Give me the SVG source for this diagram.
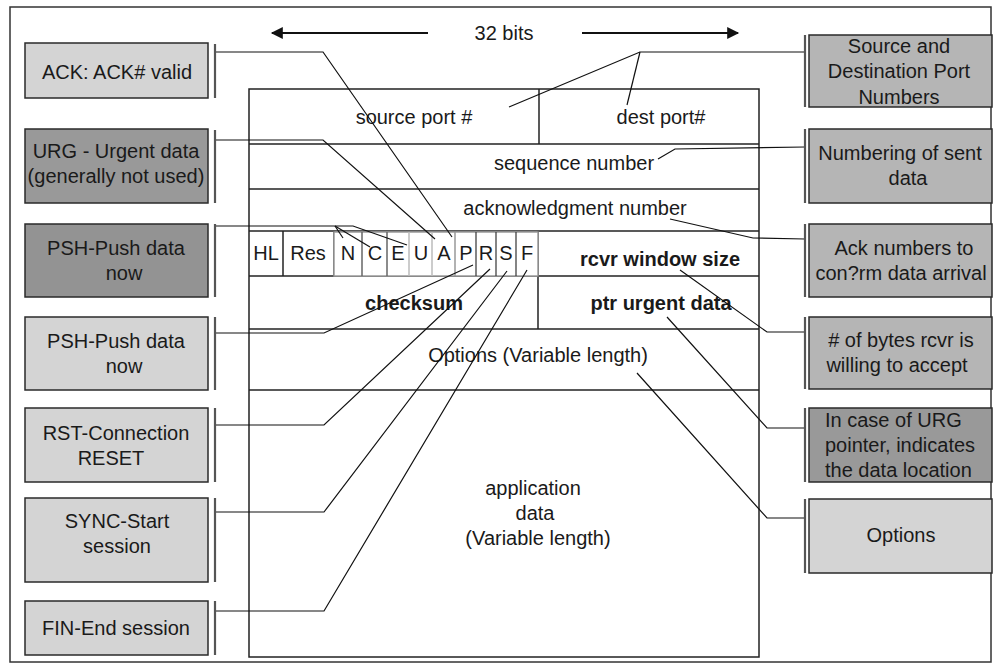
<svg xmlns="http://www.w3.org/2000/svg" width="997" height="668" viewBox="0 0 997 668">
<style>
text{font-family:"Liberation Sans",Arial,sans-serif;font-size:20px;fill:#1a1a1a}
.c{text-anchor:middle}
.b{font-weight:bold;font-size:20px}
.box{stroke:#2a2a2a;stroke-width:1.5}
.light{fill:#d4d4d4}
.mid{fill:#b5b5b5}
.dark{fill:#999999}
.darker{fill:#939393}
.bar{stroke:#555;stroke-width:2.2}
.tbl{fill:none;stroke:#222;stroke-width:1.5}
.flag{fill:#fff;stroke:#9a9a9a;stroke-width:1.5}
.conn polyline,.conn line{fill:none;stroke:#111;stroke-width:1.2}
</style>
<defs>
<marker id="ah" viewBox="0 0 10 10" refX="9" refY="5" markerWidth="7" markerHeight="6" orient="auto-start-reverse" markerUnits="strokeWidth"><path d="M0,0L10,5L0,10z" fill="#111"/></marker>
</defs>
<rect width="997" height="668" fill="#fff"/>
<rect x="10" y="7" width="981" height="655" fill="none" stroke="#333" stroke-width="1.5"/>

<g id="width-label">
<line x1="428" y1="33" x2="272" y2="33" stroke="#111" stroke-width="2" marker-end="url(#ah)"/>
<line x1="582" y1="33" x2="738" y2="33" stroke="#111" stroke-width="2" marker-end="url(#ah)"/>
<text x="504" y="40" class="c">32 bits</text>
</g>

<g id="header">
<rect x="249" y="89" width="510" height="568" class="tbl"/>
<line x1="249" y1="144" x2="759" y2="144" class="tbl"/>
<line x1="539" y1="89" x2="539" y2="144" class="tbl"/>
<line x1="249" y1="189" x2="759" y2="189" class="tbl"/>
<line x1="249" y1="231" x2="759" y2="231" class="tbl"/>
<line x1="249" y1="276" x2="759" y2="276" class="tbl"/>
<line x1="538" y1="231" x2="538" y2="329" class="tbl"/>
<line x1="249" y1="329" x2="759" y2="329" class="tbl"/>
<line x1="249" y1="390" x2="759" y2="390" class="tbl"/>
<line x1="283" y1="231" x2="283" y2="276" class="tbl"/>
<line x1="334" y1="231" x2="334" y2="276" class="tbl"/>
<rect x="334" y="232" width="204" height="44" class="flag"/>
<line x1="362" y1="232" x2="362" y2="276" stroke="#666" stroke-width="1.5"/>
<line x1="387" y1="232" x2="387" y2="276" stroke="#666" stroke-width="1.5"/>
<line x1="409" y1="232" x2="409" y2="276" stroke="#bbb" stroke-width="1.5"/>
<line x1="432" y1="232" x2="432" y2="276" stroke="#bbb" stroke-width="1.5"/>
<line x1="455" y1="232" x2="455" y2="276" stroke="#999" stroke-width="1.5"/>
<line x1="476" y1="232" x2="476" y2="276" stroke="#333" stroke-width="1.2"/>
<line x1="496" y1="232" x2="496" y2="276" stroke="#333" stroke-width="1.2"/>
<line x1="516" y1="232" x2="516" y2="276" stroke="#333" stroke-width="1.2"/>
<text x="414" y="124" class="c">source port #</text>
<text x="661" y="124" class="c">dest port#</text>
<text x="574" y="170" class="c">sequence number</text>
<text x="575" y="215" class="c">acknowledgment number</text>
<text x="266" y="260" class="c">HL</text>
<text x="308" y="260" class="c">Res</text>
<text x="348" y="260" class="c">N</text>
<text x="375" y="260" class="c">C</text>
<text x="398" y="260" class="c">E</text>
<text x="421" y="260" class="c">U</text>
<text x="444" y="260" class="c">A</text>
<text x="466" y="260" class="c">P</text>
<text x="486" y="260" class="c">R</text>
<text x="506" y="260" class="c">S</text>
<text x="527" y="260" class="c">F</text>
<text x="660" y="266" class="c b">rcvr window size</text>
<text x="414" y="310" class="c b">checksum</text>
<text x="661" y="310" class="c b">ptr urgent data</text>
<text x="538" y="362" class="c">Options (Variable length)</text>
<text x="533" y="495" class="c">application</text>
<text x="535" y="520" class="c">data</text>
<text x="538" y="545" class="c">(Variable length)</text>
</g>

<g class="conn" id="connectors">
<polyline points="215,52 323,52 452,237"/>
<polyline points="215,140 323,140 435,239"/>
<polyline points="215,226 353,226 407,245"/>
<line x1="335" y1="226" x2="343" y2="238"/>
<line x1="335" y1="226" x2="370" y2="247"/>
<polyline points="215,333 324,333 473,265"/>
<polyline points="215,425 324,425 490,269"/>
<polyline points="215,512 324,512 507,271"/>
<polyline points="215,611 324,611 527,270"/>
<polyline points="805,52 640,52 509,107"/>
<line x1="640" y1="52" x2="627" y2="105"/>
<polyline points="805,147 675,149 658,159"/>
<polyline points="805,239 753,238 670,219"/>
<polyline points="805,332 767,332 680,270"/>
<polyline points="805,428 767,428 667,317"/>
<polyline points="805,518 767,518 637,373"/>
</g>

<g id="ack">
<rect x="25" y="43" width="183" height="55" class="box light"/>
<line x1="215" y1="44" x2="215" y2="98" class="bar"/>
<text x="117" y="79" class="c">ACK: ACK# valid</text>
</g>
<g id="urg">
<rect x="25" y="129" width="183" height="74" class="box dark"/>
<line x1="215" y1="130" x2="215" y2="203" class="bar"/>
<text x="116" y="158" class="c">URG - Urgent data</text>
<text x="116" y="183" class="c">(generally not used)</text>
</g>
<g id="psh1">
<rect x="25" y="224" width="183" height="73" class="box darker"/>
<line x1="215" y1="224" x2="215" y2="297" class="bar"/>
<text x="116" y="255" class="c">PSH-Push data</text>
<text x="124" y="280" class="c">now</text>
</g>
<g id="psh2">
<rect x="25" y="317" width="183" height="73" class="box light"/>
<line x1="215" y1="317" x2="215" y2="390" class="bar"/>
<text x="116" y="348" class="c">PSH-Push data</text>
<text x="124" y="373" class="c">now</text>
</g>
<g id="rst">
<rect x="25" y="408" width="183" height="74" class="box light"/>
<line x1="215" y1="408" x2="215" y2="482" class="bar"/>
<text x="116" y="440" class="c">RST-Connection</text>
<text x="111" y="465" class="c">RESET</text>
</g>
<g id="sync">
<rect x="25" y="498" width="183" height="84" class="box light"/>
<line x1="215" y1="498" x2="215" y2="582" class="bar"/>
<text x="117" y="528" class="c">SYNC-Start</text>
<text x="117" y="553" class="c">session</text>
</g>
<g id="fin">
<rect x="25" y="601" width="183" height="54" class="box light"/>
<line x1="215" y1="601" x2="215" y2="655" class="bar"/>
<text x="116" y="635" class="c">FIN-End session</text>
</g>

<g id="ports">
<rect x="809" y="35" width="183" height="72" class="box mid"/>
<line x1="805" y1="35" x2="805" y2="107" class="bar"/>
<text x="899" y="53" class="c">Source and</text>
<text x="899" y="78" class="c">Destination Port</text>
<text x="899" y="104" class="c">Numbers</text>
</g>
<g id="seq">
<rect x="809" y="129" width="183" height="74" class="box mid"/>
<line x1="805" y1="129" x2="805" y2="203" class="bar"/>
<text x="900" y="160" class="c">Numbering of sent</text>
<text x="908" y="185" class="c">data</text>
</g>
<g id="acknum">
<rect x="809" y="224" width="183" height="73" class="box mid"/>
<line x1="805" y1="224" x2="805" y2="297" class="bar"/>
<text x="904" y="255" class="c">Ack numbers to</text>
<text x="901" y="280" class="c">con?rm data arrival</text>
</g>
<g id="window">
<rect x="809" y="317" width="183" height="72" class="box mid"/>
<line x1="805" y1="317" x2="805" y2="389" class="bar"/>
<text x="901" y="347" class="c">&#35; of bytes rcvr is</text>
<text x="897" y="372" class="c">willing to accept</text>
</g>
<g id="urgptr">
<rect x="809" y="408" width="183" height="74" class="box dark"/>
<line x1="805" y1="408" x2="805" y2="482" class="bar"/>
<text x="825" y="427">In case of URG</text>
<text x="825" y="452">pointer, indicates</text>
<text x="825" y="477">the data location</text>
</g>
<g id="options">
<rect x="809" y="499" width="183" height="74" class="box light"/>
<line x1="805" y1="499" x2="805" y2="573" class="bar"/>
<text x="901" y="542" class="c">Options</text>
</g>
</svg>
